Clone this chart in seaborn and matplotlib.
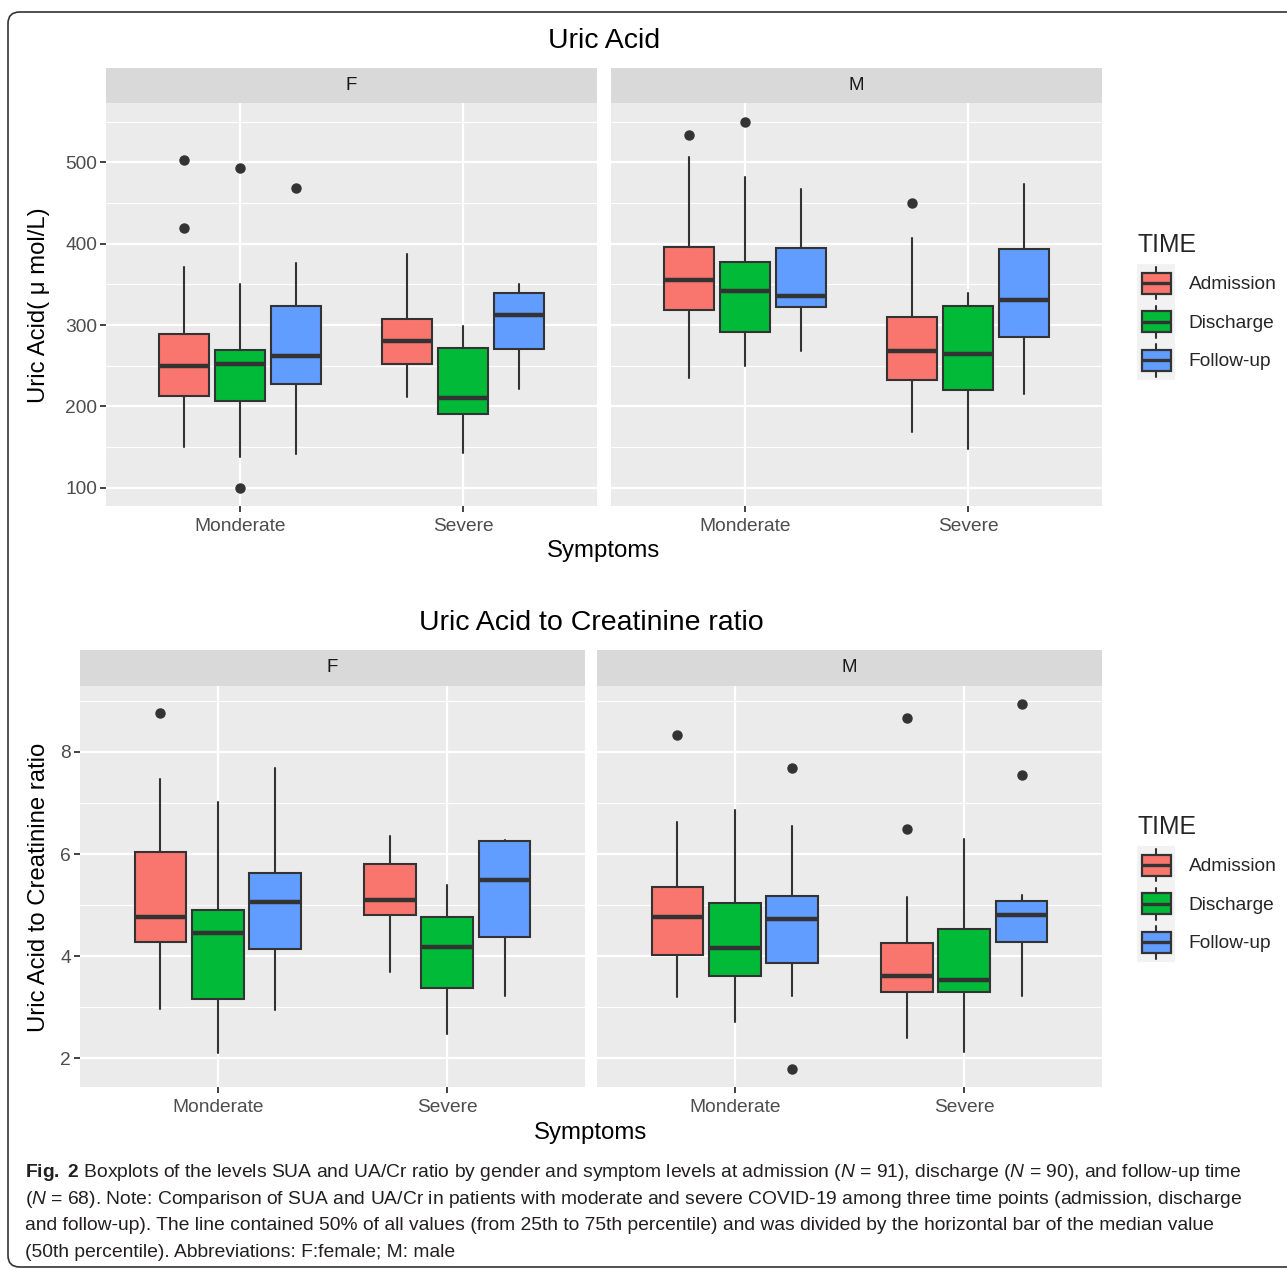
import numpy as np
import pandas as pd
import seaborn as sns
import matplotlib
matplotlib.use("Agg")
import matplotlib.pyplot as plt
from matplotlib.patches import Rectangle, FancyBboxPatch, Patch
from matplotlib.legend_handler import HandlerBase
from matplotlib.lines import Line2D
from matplotlib import font_manager as fm

# ---------------- data ----------------
sexes = ["F", "M"]
symptoms = ["Monderate", "Severe"]
times = ["Admission", "Discharge", "Follow-up"]
# order of the 12 boxes: F-Mod(A,D,F), F-Sev(A,D,F), M-Mod(A,D,F), M-Sev(A,D,F)
ua_whislo = [150, 138, 141, 212, 142, 221, 235, 250, 268, 169, 148, 215]
ua_q1 = [213, 207, 228, 252, 191, 270, 318, 291, 322, 233, 220, 285]
ua_med = [250, 252, 262, 281, 210, 312, 355, 342, 336, 268, 265, 331]
ua_q3 = [289, 269, 323, 307, 272, 340, 396, 377, 395, 310, 323, 393]
ua_whishi = [372, 350, 376, 387, 299, 350, 507, 482, 468, 407, 340, 473]
ua_out = [[503, 420], [493, 100], [469], [], [], [], [534], [550], [], [450], [], []]

cr_whislo = [2.97, 2.11, 2.94, 3.69, 2.48, 3.23, 3.20, 2.71, 3.23, 2.40, 2.13, 3.23]
cr_q1 = [4.27, 3.16, 4.14, 4.81, 3.37, 4.38, 4.02, 3.61, 3.87, 3.30, 3.29, 4.27]
cr_med = [4.77, 4.46, 5.06, 5.11, 4.19, 5.50, 4.76, 4.16, 4.72, 3.62, 3.54, 4.81]
cr_q3 = [6.05, 4.90, 5.63, 5.81, 4.77, 6.25, 5.35, 5.04, 5.17, 4.25, 4.53, 5.08]
cr_whishi = [7.46, 7.01, 7.69, 6.35, 5.40, 6.28, 6.62, 6.87, 6.54, 5.15, 6.30, 5.19]
cr_out = [[8.76], [], [], [], [], [], [8.33], [], [7.69, 1.79], [8.67, 6.50], [], [8.93, 7.54]]

ua_yticks = [100, 200, 300, 400, 500]
cr_yticks = [2, 4, 6, 8]

caption_lines = [
    r"$\bf{Fig.\ 2}$ Boxplots of the levels SUA and UA/Cr ratio by gender and symptom levels at admission ($\it{N}$ = 91), discharge ($\it{N}$ = 90), and follow-up time",
    r"($\it{N}$ = 68). Note: Comparison of SUA and UA/Cr in patients with moderate and severe COVID-19 among three time points (admission, discharge",
    "and follow-up). The line contained 50% of all values (from 25th to 75th percentile) and was divided by the horizontal bar of the median value",
    "(50th percentile). Abbreviations: F:female; M: male",
]

# ---------------- style ----------------
sns.set_theme(style="darkgrid")
avail = {f.name for f in fm.fontManager.ttflist}
base = "Liberation Sans" if "Liberation Sans" in avail else "DejaVu Sans"
cap_font = "Liberation Sans Narrow" if "Liberation Sans Narrow" in avail else base
plt.rcParams["font.family"] = [base, "DejaVu Sans"]
plt.rcParams["mathtext.fontset"] = "custom"
plt.rcParams["mathtext.rm"] = cap_font
plt.rcParams["mathtext.it"] = cap_font + ":italic"
plt.rcParams["mathtext.bf"] = cap_font + ":bold"

palette = ["#F8766D", "#00BA38", "#619CFF"]
EDGE = "#333333"

W, H = 1287, 1269
fig = plt.figure(figsize=(W / 100, H / 100), dpi=100)
fig.patch.set_facecolor("white")


def fx(x):
    return x / W


def fy(y):
    return 1 - y / H


def add_ax(x0, x1, y0, y1):
    return fig.add_axes([x0 / W, 1 - y1 / H, (x1 - x0) / W, (y1 - y0) / H])


def build_df(lo, q1, med, q3, hi, outs):
    rows = []
    i = 0
    for sx in sexes:
        for sy in symptoms:
            for t in times:
                rows.append(dict(sex=sx, symptom=sy, time=t, whislo=lo[i], q1=q1[i],
                                 med=med[i], q3=q3[i], whishi=hi[i], fliers=outs[i]))
                i += 1
    return pd.DataFrame(rows)


def draw_facet(ax, df, sex, ylim, yticks, minor, show_y, strip_px, panel_px):
    ax.set_facecolor("#EBEBEB")
    ax.set_axisbelow(True)
    sub = df[df.sex == sex]
    for _, r in sub.iterrows():
        si = symptoms.index(r.symptom)
        ti = times.index(r.time)
        pos = (si + 1) + (ti - 1) * 0.25
        st = [dict(med=r.med, q1=r.q1, q3=r.q3, whislo=r.whislo, whishi=r.whishi,
                   fliers=np.array(r.fliers, dtype=float))]
        ax.bxp(st, positions=[pos], widths=0.225, patch_artist=True, showcaps=False,
               manage_ticks=False,
               boxprops=dict(facecolor=palette[ti], edgecolor=EDGE, linewidth=1.5),
               medianprops=dict(color=EDGE, linewidth=3.2, solid_capstyle="butt"),
               whiskerprops=dict(color=EDGE, linewidth=1.5),
               flierprops=dict(marker="o", markerfacecolor=EDGE, markeredgecolor=EDGE,
                               markersize=6.5))
    ax.set_xlim(0.4, 2.6)
    ax.set_ylim(*ylim)
    ax.set_xticks([1, 2])
    ax.set_xticklabels(symptoms)
    ax.set_yticks(yticks)
    ax.set_yticks(minor, minor=True)
    ax.grid(which="major", color="white", linewidth=1.6)
    ax.grid(which="minor", axis="y", color="white", linewidth=0.8)
    ax.grid(which="minor", axis="x", visible=False)
    for s in ax.spines.values():
        s.set_visible(False)
    ax.tick_params(axis="both", which="major", bottom=True, left=show_y, length=4,
                   width=1.3, color=EDGE, labelsize=13.8, labelcolor="#4D4D4D", pad=2.5)
    ax.tick_params(axis="x", which="major", pad=4.5)
    ax.tick_params(axis="both", which="minor", length=0)
    if not show_y:
        ax.set_yticklabels([])
    ax.set_xlabel("")
    ax.set_ylabel("")
    h = strip_px / panel_px
    ax.add_patch(Rectangle((0, 1), 1, h, transform=ax.transAxes, clip_on=False,
                           facecolor="#D9D9D9", edgecolor="none"))
    ax.text(0.5, 1 + h / 2, sex, transform=ax.transAxes, ha="center", va="center",
            fontsize=13.5, color="#1A1A1A")


class HandlerBoxKey(HandlerBase):
    def create_artists(self, legend, orig_handle, xdescent, ydescent, width, height,
                       fontsize, trans):
        x0, y0 = -xdescent, -ydescent
        w, h = width, height
        fc = orig_handle.get_facecolor()
        bg = Rectangle((x0, y0), w, h, facecolor="#F2F2F2", edgecolor="none", transform=trans)
        wl1 = Line2D([x0 + w / 2] * 2, [y0 + 0.08 * h, y0 + 0.23 * h], color=EDGE, lw=1.5, transform=trans)
        wl2 = Line2D([x0 + w / 2] * 2, [y0 + 0.77 * h, y0 + 0.92 * h], color=EDGE, lw=1.5, transform=trans)
        box = Rectangle((x0 + 0.12 * w, y0 + 0.23 * h), 0.76 * w, 0.54 * h, facecolor=fc,
                        edgecolor=EDGE, lw=1.6, transform=trans)
        med = Line2D([x0 + 0.12 * w, x0 + 0.88 * w], [y0 + 0.5 * h] * 2, color=EDGE, lw=2.4,
                     solid_capstyle="butt", transform=trans)
        return [bg, wl1, wl2, box, med]


def add_legend(top_px):
    handles = [Patch(facecolor=c, edgecolor=EDGE) for c in palette]
    leg = fig.legend(handles=handles, labels=times, title="TIME", loc="upper left",
                     bbox_to_anchor=(fx(1137), fy(top_px)), frameon=False, fontsize=13.8,
                     title_fontsize=17.8, handler_map={Patch: HandlerBoxKey()},
                     handlelength=2.0, handleheight=2.72, labelspacing=0.0,
                     handletextpad=0.7, borderpad=0, borderaxespad=0, alignment="left")
    leg._legend_box.sep = 5
    return leg


# ---------------- top chart: Uric Acid ----------------
ua = build_df(ua_whislo, ua_q1, ua_med, ua_q3, ua_whishi, ua_out)
axF = add_ax(106, 597, 103, 506)
axM = add_ax(611, 1102, 103, 506)
draw_facet(axF, ua, "F", (77.4, 573.2), ua_yticks, [150, 250, 350, 450, 550], True, 35, 403)
draw_facet(axM, ua, "M", (77.4, 573.2), ua_yticks, [150, 250, 350, 450, 550], False, 35, 403)
fig.text(fx(604), fy(41), "Uric Acid", ha="center", va="center", fontsize=20.5, color="black")
fig.text(fx(604), fy(551), "Symptoms", ha="center", va="center", fontsize=17.3, color="black")
fig.text(fx(39), fy(305), "Uric Acid( \u03bc mol/L)", ha="center", va="center", rotation=90,
         fontsize=17.2, color="black")
add_legend(233)

# ---------------- bottom chart: UA/Cr ratio ----------------
cr = build_df(cr_whislo, cr_q1, cr_med, cr_q3, cr_whishi, cr_out)
bxF = add_ax(80, 585, 686, 1087)
bxM = add_ax(597, 1102, 686, 1087)
draw_facet(bxF, cr, "F", (1.44, 9.29), cr_yticks, [3, 5, 7, 9], True, 36, 401)
draw_facet(bxM, cr, "M", (1.44, 9.29), cr_yticks, [3, 5, 7, 9], False, 36, 401)
fig.text(fx(591), fy(623), "Uric Acid to Creatinine ratio", ha="center", va="center",
         fontsize=20.5, color="black")
fig.text(fx(591), fy(1133), "Symptoms", ha="center", va="center", fontsize=17.3, color="black")
fig.text(fx(39), fy(887), "Uric Acid to Creatinine ratio", ha="center", va="center", rotation=90,
         fontsize=17.2, color="black")
add_legend(815)

# ---------------- caption ----------------
for i, line in enumerate(caption_lines):
    fig.text(fx(25), fy(1177 + i * 26.7), line, ha="left", va="baseline", fontsize=13.85,
             family=[cap_font, "DejaVu Sans"], color="#231F20")

# rounded frame
frame = FancyBboxPatch((fx(8), fy(1267)), fx(1300) - fx(8), fy(12) - fy(1267),
                       boxstyle="round,pad=0,rounding_size=0.009", transform=fig.transFigure,
                       fill=False, edgecolor="#333333", linewidth=1.2)
fig.add_artist(frame)

fig.savefig("out.png", dpi=100)
